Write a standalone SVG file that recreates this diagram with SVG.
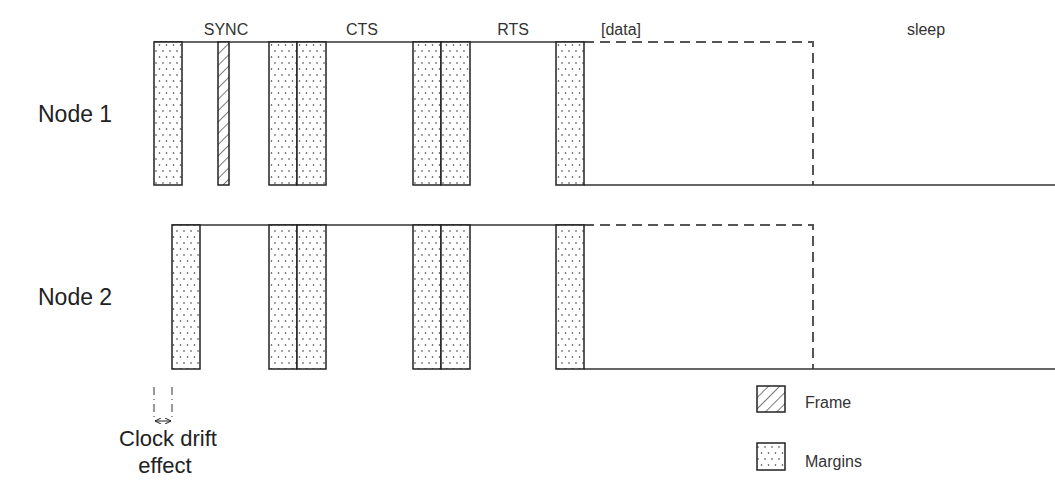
<svg xmlns="http://www.w3.org/2000/svg" width="1055" height="482" viewBox="0 0 1055 482">
<style>
.lbl{font-family:"Liberation Sans",Arial,sans-serif;fill:#333;font-size:16px}
.big{font-family:"Liberation Sans",Arial,sans-serif;fill:#222;font-size:23px}
.leg{font-family:"Liberation Sans",Arial,sans-serif;fill:#333;font-size:16px}
.m{fill:url(#dots);stroke:#222;stroke-width:1.5}
.f{fill:url(#hatch);stroke:#222;stroke-width:1.5}
.sol{fill:none;stroke:#333;stroke-width:1.5}
.dsh{fill:none;stroke:#555;stroke-width:2;stroke-dasharray:10,6}
</style>
<defs>
<pattern id="dots" width="7" height="12" patternUnits="userSpaceOnUse">
<rect width="7" height="12" fill="#fff"/>
<circle cx="2" cy="3" r="0.8" fill="#333"/>
<circle cx="5.5" cy="9" r="0.8" fill="#333"/>
</pattern>
<pattern id="hatch" width="8" height="8" patternUnits="userSpaceOnUse" patternTransform="rotate(45)">
<rect width="8" height="8" fill="#fff"/>
<line x1="0" y1="0" x2="0" y2="8" stroke="#222" stroke-width="1.2"/>
</pattern>
<marker id="ah" viewBox="0 0 6 6" refX="6" refY="3" markerWidth="6" markerHeight="6" orient="auto-start-reverse">
<path d="M0,0 L6,3 L0,6" fill="none" stroke="#222" stroke-width="1"/>
</marker>
</defs>
<g id="labels">
<text class="lbl" x="226" y="35" text-anchor="middle">SYNC</text>
<text class="lbl" x="362" y="35" text-anchor="middle">CTS</text>
<text class="lbl" x="513" y="35" text-anchor="middle">RTS</text>
<text class="lbl" x="621" y="35" text-anchor="middle">[data]</text>
<text class="lbl" x="926" y="35" text-anchor="middle">sleep</text>
</g>
<g id="node1">
<text class="big" x="38" y="122">Node 1</text>
<g id="connectors1">
<path class="sol" d="M154,42 H584"/>
<path class="dsh" d="M584,42 H813 V185"/>
<path class="sol" d="M584,185 H1055"/>
</g>
<rect class="m" x="154" y="42" width="28" height="143"/>
<rect class="f" x="218" y="42" width="11" height="143"/>
<rect class="m" x="269" y="42" width="28" height="143"/>
<rect class="m" x="297" y="42" width="29" height="143"/>
<rect class="m" x="413" y="42" width="28" height="143"/>
<rect class="m" x="441" y="42" width="29" height="143"/>
<rect class="m" x="556" y="42" width="28" height="143"/>
</g>
<g id="node2">
<text class="big" x="38" y="305">Node 2</text>
<g id="connectors2">
<path class="sol" d="M172,225 H584"/>
<path class="dsh" d="M584,225 H813 V369"/>
<path class="sol" d="M584,369 H1055"/>
</g>
<rect class="m" x="172" y="225" width="28" height="144"/>
<rect class="m" x="269" y="225" width="28" height="144"/>
<rect class="m" x="297" y="225" width="29" height="144"/>
<rect class="m" x="413" y="225" width="28" height="144"/>
<rect class="m" x="441" y="225" width="29" height="144"/>
<rect class="m" x="556" y="225" width="28" height="144"/>
</g>
<g id="clockdrift">
<path d="M154,387 V420 M172,387 V420" fill="none" stroke="#333" stroke-width="1" stroke-dasharray="8,4,1,4"/>
<line x1="155" y1="421" x2="171" y2="421" stroke="#222" stroke-width="1" marker-start="url(#ah)" marker-end="url(#ah)"/>
<text class="big" x="168" y="446" text-anchor="middle" style="font-size:22px">Clock drift</text>
<text class="big" x="165" y="473" text-anchor="middle" style="font-size:22px">effect</text>
</g>
<g id="legend">
<rect class="f" x="757" y="386" width="28" height="26"/>
<text class="leg" x="805" y="408">Frame</text>
<rect class="m" x="757" y="443" width="28" height="27"/>
<text class="leg" x="805" y="467">Margins</text>
</g>
</svg>
